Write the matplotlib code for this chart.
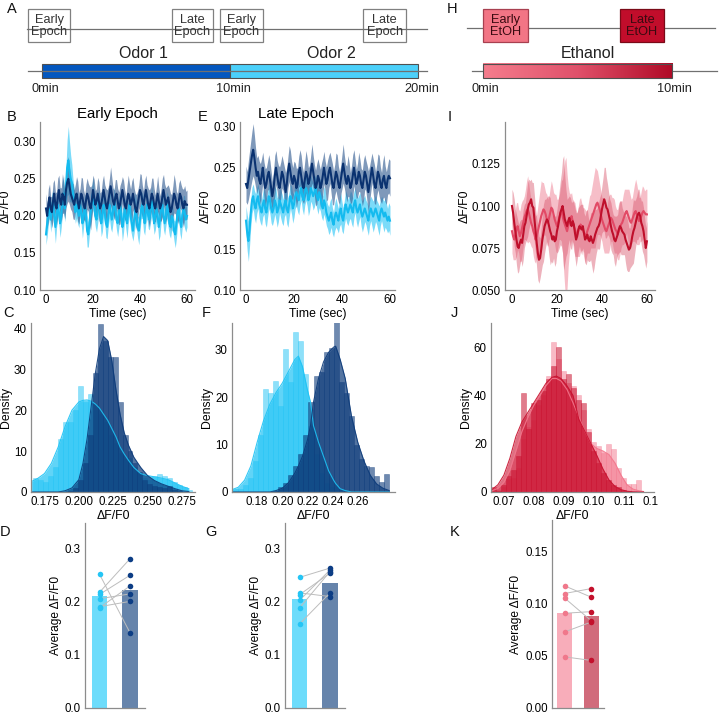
import numpy as np
import matplotlib
matplotlib.use('Agg')
import matplotlib.pyplot as plt
from matplotlib.patches import Rectangle
from matplotlib.colors import LinearSegmentedColormap
from matplotlib.transforms import Bbox, TransformedBbox

plt.rcParams['font.family'] = ['Liberation Sans', 'DejaVu Sans']

# ---------------- data ----------------
# schematic (minutes)
odor_names = ['Odor 1', 'Odor 2']
odor_start = [0, 10]
odor_end = [10, 20]
epoch_labels = ['Early\nEpoch', 'Late\nEpoch', 'Early\nEpoch', 'Late\nEpoch']
epoch_from = [-0.72, 6.90, 9.47, 17.08]
epoch_to = [1.50, 9.11, 11.74, 19.35]
odor_ticks = [0, 10, 20]
etoh_labels = ['Early\nEtOH', 'Late\nEtOH']
etoh_from = [0.0, 7.26]
etoh_to = [2.41, 9.59]
etoh_ticks = [0, 10]

# time traces, dF/F0 in thousandths, 0..60 s every 0.5 s
B_odor2_mean = [175, 190, 205, 210, 195, 210, 220, 200, 185, 200,
                215, 205, 190, 200, 225, 230, 210, 240, 265, 275,
                260, 250, 245, 230, 220, 205, 215, 210, 200, 215,
                205, 190, 200, 215, 200, 180, 175, 190, 205, 220,
                230, 215, 200, 195, 210, 220, 205, 190, 200, 215,
                205, 190, 185, 200, 215, 205, 195, 205, 220, 210,
                195, 190, 205, 215, 200, 185, 195, 210, 200, 190,
                205, 215, 200, 190, 180, 195, 210, 200, 185, 180,
                195, 210, 215, 200, 190, 205, 215, 200, 195, 210,
                220, 205, 190, 200, 210, 200, 185, 195, 210, 215,
                200, 190, 200, 215, 205, 190, 185, 200, 195, 180,
                175, 190, 205, 210, 195, 185, 200, 210, 205, 195,
                200]
B_odor2_sem = [14, 18, 16, 13, 17, 20, 15, 18, 22, 16,
               14, 17, 19, 15, 21, 24, 18, 26, 38, 46,
               40, 32, 24, 19, 17, 15, 18, 21, 16, 14,
               17, 20, 15, 13, 18, 22, 17, 14, 16, 19,
               22, 18, 15, 17, 20, 16, 14, 18, 21, 17,
               15, 19, 16, 14, 18, 22, 17, 15, 19, 16,
               14, 18, 21, 16, 15, 19, 17, 14, 18, 20,
               16, 15, 19, 17, 14, 18, 22, 17, 15, 19,
               16, 14, 18, 21, 16, 15, 19, 17, 14, 18,
               20, 16, 15, 19, 17, 14, 18, 22, 17, 15,
               19, 16, 14, 18, 21, 16, 15, 19, 17, 14,
               18, 20, 16, 15, 19, 17, 14, 18, 22, 17,
               15]
B_odor1_mean = [210, 200, 215, 225, 210, 205, 220, 230, 215, 210,
                225, 235, 220, 215, 230, 225, 215, 235, 245, 250,
                240, 230, 225, 220, 215, 225, 230, 220, 210, 220,
                230, 225, 215, 210, 220, 230, 225, 215, 210, 220,
                235, 225, 215, 220, 230, 220, 210, 215, 225, 235,
                225, 215, 210, 220, 230, 240, 230, 220, 215, 225,
                230, 220, 210, 215, 225, 235, 225, 215, 210, 220,
                230, 225, 215, 220, 230, 220, 210, 205, 215, 225,
                235, 230, 220, 215, 225, 235, 225, 215, 210, 220,
                230, 225, 215, 210, 220, 230, 220, 210, 215, 225,
                235, 225, 215, 220, 225, 215, 205, 210, 220, 230,
                225, 215, 210, 220, 230, 225, 215, 210, 220, 215,
                215]
B_odor1_sem = [20, 17, 22, 18, 16, 21, 25, 19, 17, 22,
               26, 20, 18, 23, 27, 21, 19, 24, 28, 30,
               25, 21, 19, 24, 20, 18, 23, 27, 21, 17,
               22, 26, 20, 18, 23, 21, 19, 25, 29, 22,
               20, 24, 19, 17, 22, 26, 21, 18, 23, 20,
               17, 22, 25, 19, 21, 26, 22, 18, 20, 24,
               19, 17, 22, 26, 21, 18, 23, 20, 17, 22,
               25, 19, 21, 27, 22, 18, 20, 24, 19, 17,
               22, 26, 21, 18, 23, 20, 17, 22, 25, 19,
               21, 26, 22, 18, 20, 24, 19, 17, 22, 26,
               21, 18, 23, 20, 17, 22, 25, 19, 21, 26,
               22, 18, 20, 24, 19, 17, 22, 26, 21, 18,
               20]
E_odor2_mean = [185, 170, 160, 175, 195, 210, 215, 205, 200, 210,
                215, 205, 200, 195, 205, 210, 200, 195, 205, 215,
                210, 200, 195, 200, 210, 205, 195, 200, 210, 205,
                200, 195, 205, 210, 200, 195, 205, 215, 210, 200,
                205, 215, 220, 215, 210, 220, 225, 215, 210, 220,
                225, 220, 210, 215, 225, 220, 215, 220, 225, 215,
                210, 220, 215, 205, 200, 210, 205, 195, 190, 185,
                190, 195, 185, 180, 190, 195, 190, 185, 195, 200,
                190, 185, 195, 205, 200, 195, 200, 205, 200, 195,
                205, 210, 200, 195, 200, 205, 195, 190, 195, 200,
                195, 190, 185, 195, 200, 195, 190, 195, 200, 195,
                190, 185, 195, 200, 195, 190, 195, 190, 185, 190,
                185]
E_odor2_sem = [18, 22, 25, 20, 17, 16, 15, 17, 18, 16,
               15, 17, 18, 16, 15, 17, 19, 18, 16, 15,
               17, 18, 16, 15, 17, 19, 18, 16, 15, 17,
               18, 16, 15, 17, 19, 18, 16, 15, 17, 18,
               16, 15, 17, 19, 18, 16, 15, 17, 18, 16,
               15, 17, 19, 18, 16, 15, 17, 18, 16, 15,
               17, 19, 18, 16, 15, 17, 18, 16, 15, 17,
               19, 18, 16, 15, 17, 18, 16, 15, 17, 19,
               18, 16, 15, 17, 18, 16, 15, 17, 19, 18,
               16, 15, 17, 18, 16, 15, 17, 19, 18, 16,
               15, 17, 18, 16, 15, 17, 19, 18, 16, 15,
               17, 18, 16, 15, 17, 19, 18, 16, 15, 17,
               18]
E_odor1_mean = [230, 225, 235, 245, 255, 265, 272, 262, 250, 240,
                245, 235, 230, 240, 250, 235, 225, 230, 240, 245,
                235, 225, 215, 225, 240, 250, 240, 230, 225, 235,
                245, 240, 230, 220, 230, 245, 255, 245, 235, 230,
                240, 235, 225, 230, 245, 250, 240, 230, 225, 235,
                245, 240, 230, 235, 245, 255, 245, 235, 225, 230,
                240, 235, 225, 230, 240, 250, 240, 230, 235, 245,
                250, 240, 230, 225, 235, 245, 240, 230, 225, 235,
                245, 255, 245, 235, 230, 240, 235, 225, 230, 240,
                250, 240, 230, 235, 245, 240, 230, 225, 235, 245,
                240, 230, 220, 230, 240, 250, 240, 230, 225, 235,
                245, 240, 230, 225, 235, 240, 230, 225, 235, 240,
                237]
E_odor1_sem = [22, 20, 24, 26, 28, 30, 32, 28, 24, 22,
               20, 23, 25, 21, 19, 22, 24, 20, 18, 21,
               23, 20, 18, 22, 25, 21, 19, 23, 26, 22,
               20, 18, 21, 24, 20, 19, 22, 26, 23, 20,
               18, 21, 24, 20, 19, 22, 25, 21, 19, 23,
               26, 22, 20, 18, 21, 24, 20, 19, 22, 25,
               21, 19, 23, 26, 22, 20, 18, 21, 24, 20,
               19, 22, 25, 21, 19, 23, 26, 22, 20, 18,
               21, 24, 20, 19, 22, 25, 21, 19, 23, 26,
               22, 20, 18, 21, 24, 20, 19, 22, 25, 21,
               19, 23, 26, 22, 20, 18, 21, 24, 20, 19,
               22, 25, 21, 19, 23, 26, 22, 20, 18, 21,
               22]
I_late_mean = [100, 96, 90, 85, 80, 76, 75, 78, 80, 78,
               83, 88, 90, 94, 98, 101, 102, 104, 100, 99,
               92, 85, 78, 72, 68, 69, 74, 80, 84, 88,
               90, 92, 91, 88, 85, 83, 80, 82, 79, 80,
               85, 88, 92, 96, 98, 100, 96, 92, 90, 88,
               91, 93, 90, 88, 91, 89, 84, 80, 82, 86,
               88, 87, 86, 88, 84, 80, 81, 83, 80, 79,
               82, 80, 78, 80, 83, 85, 87, 88, 90, 94,
               98, 101, 104, 102, 99, 98, 95, 92, 88, 85,
               83, 80, 79, 81, 83, 86, 88, 87, 85, 84,
               83, 80, 78, 76, 74, 75, 78, 82, 85, 87,
               90, 93, 95, 96, 94, 90, 88, 85, 80, 75,
               79]
I_late_sem = [10, 12, 14, 13, 15, 16, 14, 13, 12, 14,
              15, 13, 12, 14, 16, 15, 13, 12, 14, 15,
              14, 13, 15, 16, 14, 12, 13, 15, 17, 16,
              14, 13, 15, 18, 20, 16, 14, 13, 15, 14,
              13, 15, 17, 19, 22, 28, 34, 26, 20, 16,
              14, 13, 15, 14, 12, 13, 15, 16, 14, 13,
              12, 14, 15, 13, 12, 14, 16, 15, 13, 12,
              14, 16, 18, 17, 15, 13, 12, 14, 15, 13,
              14, 16, 19, 21, 18, 15, 13, 12, 14, 13,
              12, 14, 15, 13, 12, 14, 15, 16, 14, 13,
              12, 14, 16, 15, 13, 12, 14, 17, 19, 16,
              14, 13, 15, 14, 12, 13, 15, 14, 13, 12,
              12]
I_early_mean = [85, 82, 80, 83, 86, 88, 85, 82, 84, 87,
                90, 93, 95, 97, 98, 96, 93, 90, 88, 85,
                83, 80, 82, 85, 88, 91, 94, 96, 98, 97,
                95, 92, 90, 93, 96, 99, 98, 95, 92, 90,
                88, 90, 93, 95, 97, 94, 91, 89, 87, 85,
                88, 90, 92, 94, 91, 88, 86, 84, 83, 85,
                87, 89, 88, 86, 84, 82, 83, 85, 87, 89,
                91, 93, 95, 97, 99, 101, 102, 100, 98, 95,
                92, 90, 88, 86, 85, 87, 89, 91, 93, 92,
                90, 88, 86, 85, 83, 85, 87, 89, 90, 92,
                94, 96, 97, 95, 93, 91, 90, 92, 94, 96,
                97, 95, 93, 91, 92, 94, 96, 97, 96, 95,
                95]
I_early_sem = [13, 14, 12, 15, 16, 14, 13, 15, 17, 16,
               14, 13, 15, 18, 20, 17, 15, 14, 13, 15,
               16, 14, 13, 15, 17, 19, 21, 18, 16, 14,
               13, 15, 14, 13, 15, 16, 14, 13, 15, 17,
               16, 14, 13, 15, 18, 22, 30, 38, 42, 34,
               24, 18, 15, 14, 13, 15, 16, 14, 13, 15,
               17, 16, 14, 13, 15, 16, 14, 13, 15, 17,
               16, 18, 20, 22, 24, 21, 19, 17, 15, 14,
               13, 15, 16, 14, 13, 15, 17, 16, 14, 13,
               15, 16, 14, 13, 15, 17, 16, 14, 13, 15,
               16, 14, 13, 15, 17, 16, 14, 13, 15, 17,
               19, 18, 16, 14, 13, 15, 16, 14, 13, 15,
               15]

# histograms (density per bin) and kde curves
C_bin0, C_binw = 0.1670, 0.0036
C_odor2_hist = [3.5, 3, 2.5, 4, 6, 13, 17, 17, 20, 26, 22, 24, 20, 19, 17, 14,
                12, 9.5, 8, 8.3, 6, 4.6, 3.5, 3, 4, 4.5, 3.8, 3.5, 2.5, 1.8, 1.2, 0.6]
C_odor1_hist = [0, 0, 0, 0, 0, 0, 0, 0.3, 1, 3, 7, 14, 29, 41, 37, 33,
                33, 22, 14, 10, 7, 5, 3, 2, 1.5, 1.2, 1, 1.5, 0.6, 0.3, 0, 0]
C_kde_x = [0.1652, 0.170, 0.175, 0.180, 0.185, 0.190, 0.195, 0.200, 0.203, 0.206,
           0.209, 0.212, 0.215, 0.218, 0.221, 0.224, 0.227, 0.230, 0.233, 0.236,
           0.240, 0.245, 0.250, 0.255, 0.260, 0.265, 0.270, 0.275, 0.280]
C_odor2_kde = [2.5, 3.3, 4.5, 7, 11, 16, 20, 22, 22.4, 22.5,
               22.2, 21.5, 20.5, 19, 17.5, 15.5, 13.5, 11, 9.3, 7.8,
               6, 4.5, 4, 3.7, 3.4, 3, 2.2, 1.4, 0.8]
C_odor1_kde = [0, 0, 0, 0, 0, 0.3, 1, 3, 7, 13,
               21, 29, 35, 38, 37, 32, 25, 19, 14.5, 11.5,
               8.5, 6, 4, 2.8, 2, 1.4, 0.8, 0.3, 0.1]

F_bin0, F_binw = 0.1608, 0.0040
F_odor2_hist = [0.7, 0.7, 1.5, 3, 6.5, 12, 21.7, 20.9, 23.4, 18.2, 30.2, 23.3, 33.8, 31.8, 25, 14,
                8, 4, 2, 1, 0.5, 0, 0, 0, 0, 0, 0, 0, 0, 0, 0]
F_odor1_hist = [0, 0, 0, 0, 0, 0, 0, 0, 0.3, 1, 2, 3.5, 5.5, 8, 12, 19,
                24.5, 25.3, 29.6, 30.5, 36.5, 23.2, 21, 16, 10, 7, 5.4, 5.2, 3.3, 2.1, 3.8]
F_kde_x = [0.158, 0.165, 0.170, 0.175, 0.180, 0.185, 0.190, 0.195, 0.200, 0.205,
           0.210, 0.2128, 0.216, 0.220, 0.2224, 0.2248, 0.2288, 0.2328, 0.2368, 0.2408,
           0.2424, 0.246, 0.250, 0.255, 0.260, 0.265, 0.270, 0.275, 0.280, 0.285]
F_odor2_kde = [0.3, 1, 2.5, 5.5, 10.5, 15, 18.5, 21, 23, 25.5,
               28, 28.7, 26.5, 21.5, 19, 14, 10.5, 7.5, 4.5, 2.5,
               1.8, 0.7, 0.3, 0, 0, 0, 0, 0, 0, 0]
F_odor1_kde = [0, 0, 0, 0, 0, 0, 0, 0.3, 0.8, 2,
               4, 5.5, 7.5, 11, 14, 19, 24, 27.5, 29.5, 30.6,
               30.8, 28, 24, 16, 10.5, 6.5, 3.5, 1.7, 0.8, 0.3]

J_bin0, J_binw = 0.0657, 0.00167
J_early_hist = [0.5, 1, 2, 5.5, 6, 10, 22, 27, 30, 36, 40, 48, 62, 55, 50,
                45, 44, 40, 34, 26, 20.7, 19, 16, 19.8, 18, 10, 6, 3.4, 3.4, 4.8]
J_late_hist = [2, 0.5, 3, 6.5, 9, 15, 41, 26, 37, 38, 42, 47, 52, 60, 47,
               49, 43, 38, 36.7, 25, 17, 12, 8, 5, 3, 2, 1, 0.5, 0, 0]
J_kde_x = [0.066, 0.068, 0.070, 0.072, 0.074, 0.076, 0.078, 0.080, 0.082, 0.084,
           0.086, 0.0875, 0.089, 0.091, 0.093, 0.095, 0.097, 0.099, 0.101, 0.103,
           0.105, 0.107, 0.109, 0.111, 0.113, 0.115, 0.1165]
J_early_kde = [0.5, 1.5, 4, 9, 17, 25, 31, 36, 40, 44,
               47, 47, 46, 42.5, 37, 31, 25, 20, 18, 17,
               15.5, 12, 7, 3, 1.2, 0.5, 0.2]
J_late_kde = [1, 3, 7, 14, 23, 29, 33, 37, 41, 45,
              47.5, 48, 47, 44, 40, 30, 25, 20, 15, 9.5,
              5, 2.3, 1, 0.3, 0.1, 0, 0]

# per-animal averages
D_odor2 = [0.251, 0.217, 0.213, 0.188, 0.205, 0.190]
D_odor1 = [0.141, 0.280, 0.249, 0.229, 0.214, 0.200]
D_bars = [0.211, 0.222]
G_odor2 = [0.245, 0.216, 0.2125, 0.202, 0.1875, 0.1575]
G_odor1 = [0.2625, 0.209, 0.253, 0.259, 0.256, 0.216]
G_bars = [0.204, 0.234]
K_early = [0.117, 0.1096, 0.1054, 0.0907, 0.0728, 0.049]
K_late = [0.106, 0.1144, 0.0833, 0.0923, 0.0824, 0.0455]
K_bars = [0.0907, 0.0878]

# ---------------- colours ----------------
LB, DB = '#1ec3f5', '#0d3b7a'
PK, DR = '#f3768c', '#c8102e'
SPINE = '#8c8c8c'

W, H = 719, 716
fig = plt.figure(figsize=(W / 100, H / 100), dpi=100)


def px_axes(l, t, r, b):
    return fig.add_axes([l / W, 1 - b / H, (r - l) / W, (b - t) / H])


def style(ax):
    for s in ['top', 'right']:
        ax.spines[s].set_visible(False)
    for s in ['left', 'bottom']:
        ax.spines[s].set_color(SPINE)
        ax.spines[s].set_linewidth(0.9)
    ax.tick_params(length=0, labelsize=8.3, pad=3)


# ---------------- schematic A ----------------
axA = px_axes(0, 0, 460, 100)
axA.set_xlim(-41.7 / 18.83, (460 - 41.7) / 18.83)
axA.set_ylim(100, 0)
axA.axis('off')
axA.plot([-0.78, 20.46], [29.3, 29.3], color='#707070', lw=0.9)
axA.plot([-0.72, 20.46], [71, 71], color='#707070', lw=0.9)
for lab, a, b in zip(epoch_labels, epoch_from, epoch_to):
    axA.add_patch(Rectangle((a, 9.3), b - a, 32.4, fc='white', ec='#808080', lw=0.9))
    axA.text((a + b) / 2, 26, lab, ha='center', va='center', fontsize=9.2,
             color='#333333', linespacing=1.0)
for name, a, b, col in zip(odor_names, odor_start, odor_end, ['#0357bf', '#4bd0fa']):
    axA.add_patch(Rectangle((a, 64), b - a, 14.3, fc=col, ec='#505050', lw=0.8))
    axA.text((a + b) / 2 + 0.4, 53, name, ha='center', va='center', fontsize=11.5,
             color='#222222')
for m in odor_ticks:
    axA.text(m + 0.17, 89, f'{m}min', ha='center', va='center', fontsize=9.2,
             color='#222222')

# ---------------- schematic H ----------------
axH = px_axes(460, 0, 719, 100)
etoh_cmap = LinearSegmentedColormap.from_list('etoh', ['#f57d8d', '#e0506a', '#b00a26'])
axH.plot([-0.85, 12.29], [28.3, 28.3], color='#707070', lw=0.9)
axH.plot([-0.58, 12.38], [71, 71], color='#707070', lw=0.9)
axH.imshow(np.linspace(0, 1, 256)[None, :], cmap=etoh_cmap, aspect='auto',
           extent=(0, 10, 78.3, 64), zorder=2)
axH.add_patch(Rectangle((0, 64), 10, 14.3, fc='none', ec='#505050', lw=0.8, zorder=3))
for lab, a, b, fc, ec in zip(etoh_labels, etoh_from, etoh_to,
                             ['#f27585', '#c10d2b'], ['#a84050', '#7a0a18']):
    axH.add_patch(Rectangle((a, 9.3), b - a, 32.4, fc=fc, ec=ec, lw=0.9, zorder=3))
    axH.text((a + b) / 2, 26, lab, ha='center', va='center', fontsize=9.2,
             color='#3a0a10', linespacing=1.0, zorder=4)
axH.text(5.58, 53, 'Ethanol', ha='center', va='center', fontsize=11.5, color='#222222')
for m in etoh_ticks:
    axH.text(m + 0.12, 89, f'{m}min', ha='center', va='center', fontsize=9.2,
             color='#222222')
axH.set_xlim(-22.7 / 18.9, (259 - 22.7) / 18.9)
axH.set_ylim(100, 0)
axH.axis('off')


# ---------------- time traces ----------------
def trace(ax, mean, sem, line_col, band_col, band_alpha):
    m = np.array(mean) / 1000
    s = np.array(sem) / 1000
    t = np.arange(len(m)) * 0.5
    ax.fill_between(t, m - s, m + s, color=band_col, alpha=band_alpha, lw=0)
    ax.plot(t, m, color=line_col, lw=1.5)


axB = px_axes(40, 122, 195, 290)
trace(axB, B_odor2_mean, B_odor2_sem, '#14bbef', '#4fcff7', 0.75)
trace(axB, B_odor1_mean, B_odor1_sem, '#0a3270', '#3a6296', 0.65)
axB.set_xlim(-2.55, 63.4)
axB.set_ylim(0.10, 0.3267)
axB.set_yticks([0.10, 0.15, 0.20, 0.25, 0.30], ['0.10', '0.15', '0.20', '0.25', '0.30'])
axB.set_title('Early Epoch', fontsize=10.8, pad=3)

axE = px_axes(240, 122, 395, 290)
trace(axE, E_odor2_mean, E_odor2_sem, '#14bbef', '#4fcff7', 0.75)
trace(axE, E_odor1_mean, E_odor1_sem, '#0a3270', '#3a6296', 0.65)
axE.set_xlim(-2.5, 62.1)
axE.set_ylim(0.10, 0.306)
axE.set_yticks([0.10, 0.15, 0.20, 0.25, 0.30], ['0.10', '0.15', '0.20', '0.25', '0.30'])
axE.set_title('Late Epoch', fontsize=10.8, pad=3, x=0.36)

axI = px_axes(505, 122, 655, 290)
trace(axI, I_early_mean, I_early_sem, '#e24a66', '#f0899b', 0.55)
trace(axI, I_late_mean, I_late_sem, '#bf0f2b', '#d9556c', 0.45)
axI.set_xlim(-3.1, 63.6)
axI.set_ylim(0.05, 0.15)
axI.set_yticks([0.05, 0.075, 0.10, 0.125], ['0.050', '0.075', '0.100', '0.125'])

for ax in [axB, axE, axI]:
    style(ax)
    ax.set_xticks([0, 20, 40, 60])
    ax.set_xlabel('Time (sec)', fontsize=8.8, labelpad=1)
    ax.set_ylabel('ΔF/F0', fontsize=8.8, labelpad=1)


# ---------------- histograms ----------------
def hist(ax, b0, bw, heights, col, bar_alpha, kx, ky, kde_alpha):
    edges = b0 + bw * np.arange(len(heights))
    ax.bar(edges, heights, width=bw, align='edge', color=col, alpha=bar_alpha,
           edgecolor=col, lw=0.4)
    ax.fill_between(kx, ky, color=col, alpha=kde_alpha, lw=0)
    ax.plot(kx, ky, color=col, lw=0.8, alpha=0.9)


axC = px_axes(31, 323, 195, 492)
hist(axC, C_bin0, C_binw, C_odor2_hist, LB, 0.5, C_kde_x, C_odor2_kde, 0.7)
hist(axC, C_bin0, C_binw, C_odor1_hist, DB, 0.6, C_kde_x, C_odor1_kde, 0.7)
axC.set_xlim(0.1652, 0.2845)
axC.set_ylim(0, 41.3)
axC.set_xticks([0.175, 0.2, 0.225, 0.25, 0.275], ['0.175', '0.200', '0.225', '0.250', '0.275'])
axC.set_yticks([0, 10, 20, 30, 40])

axF = px_axes(232, 323, 395, 492)
hist(axF, F_bin0, F_binw, F_odor2_hist, LB, 0.5, F_kde_x, F_odor2_kde, 0.7)
hist(axF, F_bin0, F_binw, F_odor1_hist, DB, 0.6, F_kde_x, F_odor1_kde, 0.7)
axF.set_xlim(0.16, 0.2896)
axF.set_ylim(0, 35.7)
axF.set_xticks([0.18, 0.2, 0.22, 0.24, 0.26], ['0.18', '0.20', '0.22', '0.24', '0.26'])
axF.set_yticks([0, 10, 20, 30])

axJ = px_axes(491, 323, 654, 492)
hist(axJ, J_bin0, J_binw, J_early_hist, PK, 0.5, J_kde_x, J_early_kde, 0.55)
hist(axJ, J_bin0, J_binw, J_late_hist, DR, 0.55, J_kde_x, J_late_kde, 0.6)
axJ.set_xlim(0.0657, 0.12)
axJ.set_ylim(0, 70)
axJ.set_xticks([0.07, 0.08, 0.09, 0.10, 0.11, 0.12], ['0.07', '0.08', '0.09', '0.10', '0.11', '0.12'])
axJ.set_yticks([0, 20, 40, 60])

for ax in [axC, axF, axJ]:
    style(ax)
    ax.set_xlabel('ΔF/F0', fontsize=8.8, labelpad=1)
    ax.set_ylabel('Density', fontsize=8.8, labelpad=1.5)

# clipped last tick labels as in the source panels
for ax, xr in [(axC, 197), (axJ, 658)]:
    lab = ax.get_xticklabels()[-1]
    lab.set_clip_on(True)
    lab.set_clip_box(TransformedBbox(Bbox.from_extents(0, 0, xr / W, 1), fig.transFigure))


# ---------------- bar + paired points ----------------
def paired(ax, left, right, bars, bar_cols, pt_cols, width):
    ax.bar([0, 1], bars, width=width, color=bar_cols, lw=0, zorder=1)
    for a, b in zip(left, right):
        ax.plot([0, 1], [a, b], color='#bdbdbd', lw=0.7, zorder=2)
    ax.scatter([0] * len(left), left, s=16, color=pt_cols[0], lw=0, zorder=3)
    ax.scatter([1] * len(right), right, s=16, color=pt_cols[1], lw=0, zorder=3)
    style(ax)
    ax.set_xticks([])
    ax.set_ylabel('Average ΔF/F0', fontsize=8.6, labelpad=2)


axD = px_axes(85, 523, 145, 708)
paired(axD, D_odor2, D_odor1, D_bars, ['#6ddcfb', '#6684ab'], ['#25c5f5', '#0c3d85'], 0.5)
axD.set_xlim(-0.475, 1.49)
axD.set_ylim(0, 0.347)
axD.set_yticks([0, 0.1, 0.2, 0.3], ['0.0', '0.1', '0.2', '0.3'])

axG = px_axes(285, 523, 345, 708)
paired(axG, G_odor2, G_odor1, G_bars, ['#6ddcfb', '#6684ab'], ['#25c5f5', '#0c3d85'], 0.5)
axG.set_xlim(-0.475, 1.49)
axG.set_ylim(0, 0.347)
axG.set_yticks([0, 0.1, 0.2, 0.3], ['0.0', '0.1', '0.2', '0.3'])

axK = px_axes(552, 520, 604, 708)
paired(axK, K_early, K_late, K_bars, ['#f8adba', '#d16b7b'], ['#f0788b', '#c4102c'], 0.556)
axK.set_xlim(-0.463, 1.463)
axK.set_ylim(0, 0.18)
axK.set_yticks([0, 0.05, 0.10, 0.15], ['0.00', '0.05', '0.10', '0.15'])

# ---------------- panel letters ----------------
letters = [('A', 7, 2), ('H', 447, 2), ('B', 7, 110), ('E', 198, 110), ('I', 448, 110),
           ('C', 3, 306), ('F', 202, 306), ('J', 451, 306),
           ('D', 0, 525), ('G', 205, 525), ('K', 450, 525)]
for s, x, y in letters:
    fig.text(x / W, 1 - y / H, s, fontsize=10.5, va='top', ha='left', color='#111111')

fig.savefig('out.png', dpi=100)
